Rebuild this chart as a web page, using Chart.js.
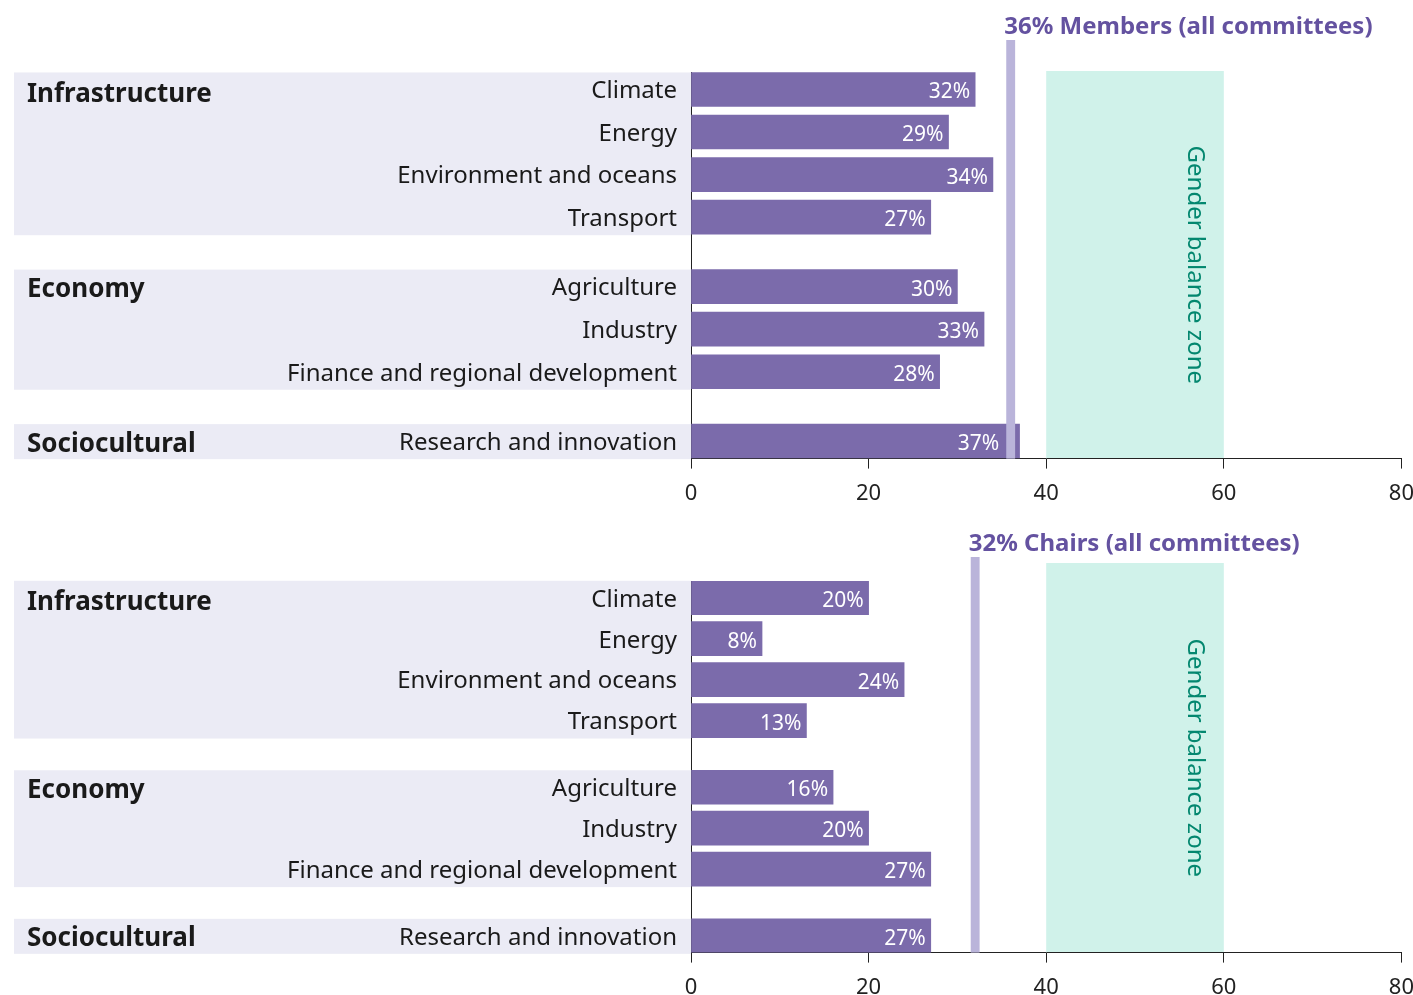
<!DOCTYPE html>
<html>
<head>
<meta charset="utf-8">
<script src="https://cdn.jsdelivr.net/npm/chart.js@4.4.1/dist/chart.umd.min.js"></script>
<style>
  html, body { margin: 0; padding: 0; background: #fff; overflow: hidden; width: 1413px; height: 995px; }
  .wrap { position: absolute; left: 0; width: 1426px; }
  #w1 { top: 0; height: 520px; }
  #w2 { top: 505px; height: 509px; }
</style>
</head>
<body>
<div class="wrap" id="w1"><canvas id="c1" width="1426" height="520"></canvas></div>
<div class="wrap" id="w2"><canvas id="c2" width="1426" height="509"></canvas></div>
<script>
// ---- Data ----
const groups = ['Infrastructure', 'Economy', 'Sociocultural'];
const categories = ['Climate', 'Energy', 'Environment and oceans', 'Transport',
  'Agriculture', 'Industry', 'Finance and regional development', 'Research and innovation'];
const categoryGroup = [0, 0, 0, 0, 1, 1, 1, 2];
const membersShare = [32, 29, 34, 27, 30, 33, 28, 37];
const chairsShare = [20, 8, 24, 13, 16, 20, 27, 27];
const membersAll = 36;
const chairsAll = 32;
const membersLabel = '36% Members (all committees)';
const chairsLabel = '32% Chairs (all committees)';
const balanceZone = [40, 60];
const balanceLabel = 'Gender balance zone';
const xTicks = [0, 20, 40, 60, 80];

// ---- Layout helpers ----
const GROUP_GAP = 0.63;
const rowPos = categories.map((c, i) => i + categoryGroup[i] * GROUP_GAP);

const FONT = '"Noto Sans", "Open Sans", sans-serif';
const BAR_COLOR = '#7b6bab';
const LINE_COLOR = '#bab4da';
const ZONE_COLOR = '#d0f2ea';
const ZONE_TEXT = '#03876f';
const TITLE_COLOR = '#6452a0';
const BAND_COLOR = '#ebebf5';

const decorPlugin = {
  id: 'decor',
  beforeDraw(chart, args, opts) {
    const ctx = chart.ctx;
    const y = chart.scales.y, x = chart.scales.x;
    const area = chart.chartArea;
    ctx.save();
    // group bands
    groups.forEach((g, gi) => {
      const idx = categoryGroup.map((v, i) => v === gi ? i : -1).filter(i => i >= 0);
      const top = y.getPixelForValue(rowPos[idx[0]]) - 17;
      const bot = y.getPixelForValue(rowPos[idx[idx.length - 1]]) + 18;
      ctx.fillStyle = BAND_COLOR;
      ctx.fillRect(14, top, area.left - 14, bot - top);
      ctx.fillStyle = '#1a1a1a';
      ctx.font = 'bold 26px ' + FONT;
      ctx.textAlign = 'left';
      ctx.textBaseline = 'middle';
      ctx.fillText(g, 27, y.getPixelForValue(rowPos[idx[0]]) + (gi === 0 ? 5 : 3));
    });
    // gender balance zone
    const zx0 = x.getPixelForValue(balanceZone[0]);
    const zx1 = x.getPixelForValue(balanceZone[1]);
    const ztop = area.top - opts.zoneRaise;
    ctx.fillStyle = ZONE_COLOR;
    ctx.fillRect(zx0, ztop, zx1 - zx0, area.bottom - ztop);
    ctx.save();
    ctx.translate(zx1 - 29, (ztop + area.bottom) / 2);
    ctx.rotate(Math.PI / 2);
    ctx.fillStyle = ZONE_TEXT;
    ctx.font = '24px ' + FONT;
    ctx.textAlign = 'center';
    ctx.textBaseline = 'middle';
    ctx.fillText(balanceLabel, 0, 0);
    ctx.restore();
    ctx.restore();
  },
  afterDatasetsDraw(chart, args, opts) {
    const ctx = chart.ctx;
    const x = chart.scales.x;
    const area = chart.chartArea;
    ctx.save();
    const lx0 = x.getPixelForValue(opts.refValue - 0.5);
    const lx1 = x.getPixelForValue(opts.refValue + 0.5);
    // value labels
    const meta = chart.getDatasetMeta(0);
    meta.data.forEach((bar, i) => {
      ctx.fillStyle = '#ffffff';
      ctx.font = '21px ' + FONT;
      ctx.textAlign = 'right';
      ctx.textBaseline = 'middle';
      const right = bar.x > lx0 ? lx0 - 7 : bar.x - 5;
      ctx.fillText(chart.data.datasets[0].data[i].x + '%', right, bar.y + 3);
    });
    // reference line
    const ltop = area.top - opts.lineRaise;
    ctx.fillStyle = LINE_COLOR;
    ctx.fillRect(lx0, ltop, lx1 - lx0, area.bottom - ltop);
    ctx.fillStyle = TITLE_COLOR;
    ctx.font = 'bold 24px ' + FONT;
    ctx.textAlign = 'left';
    ctx.textBaseline = 'middle';
    ctx.fillText(opts.refLabel, lx0 - 2, ltop - 13);
    ctx.restore();
  }
};

function makeChart(canvasId, values, refValue, refLabel, padTop, zoneRaise, lineRaise) {
  return new Chart(document.getElementById(canvasId), {
    type: 'bar',
    data: {
      datasets: [{
        data: values.map((v, i) => ({ x: v, y: rowPos[i] })),
        backgroundColor: BAR_COLOR,
        barThickness: 34,
        borderWidth: 0
      }]
    },
    options: {
      indexAxis: 'y',
      responsive: false,
      animation: false,
      parsing: false,
      layout: { padding: { top: padTop, bottom: 1, left: 0, right: 0 } },
      plugins: {
        legend: { display: false },
        tooltip: { enabled: false },
        decor: { refValue, refLabel, zoneRaise, lineRaise }
      },
      scales: {
        x: {
          type: 'linear',
          min: xTicks[0],
          max: xTicks[xTicks.length - 1],
          afterBuildTicks(scale) { scale.ticks = xTicks.map(v => ({ value: v })); },
          grid: { display: true, drawOnChartArea: false, drawTicks: true, tickLength: 10, color: '#222', lineWidth: 1 },
          border: { display: true, color: '#222', width: 1 },
          ticks: { font: { family: FONT, size: 22 }, color: '#222', padding: 12, maxRotation: 0, autoSkip: false }
        },
        y: {
          type: 'linear',
          reverse: true,
          offset: false,
          min: -0.41,
          max: rowPos[rowPos.length - 1] + 0.41,
          afterBuildTicks(scale) { scale.ticks = rowPos.map(v => ({ value: v })); },
          afterFit(scale) { scale.width = 691; },
          grid: { display: false, drawTicks: false, offset: false },
          border: { display: true, color: '#222', width: 1 },
          ticks: {
            autoSkip: false,
            padding: 14,
            labelOffset: 2,
            font: { family: FONT, size: 24 },
            color: '#1a1a1a',
            callback: (v, i) => categories[i]
          }
        }
      }
    },
    plugins: [decorPlugin]
  });
}

makeChart('c1', membersShare, membersAll, membersLabel, 72, 1, 32);
makeChart('c2', chairsShare, chairsAll, chairsLabel, 76, 18, 24);
</script>
</body>
</html>
